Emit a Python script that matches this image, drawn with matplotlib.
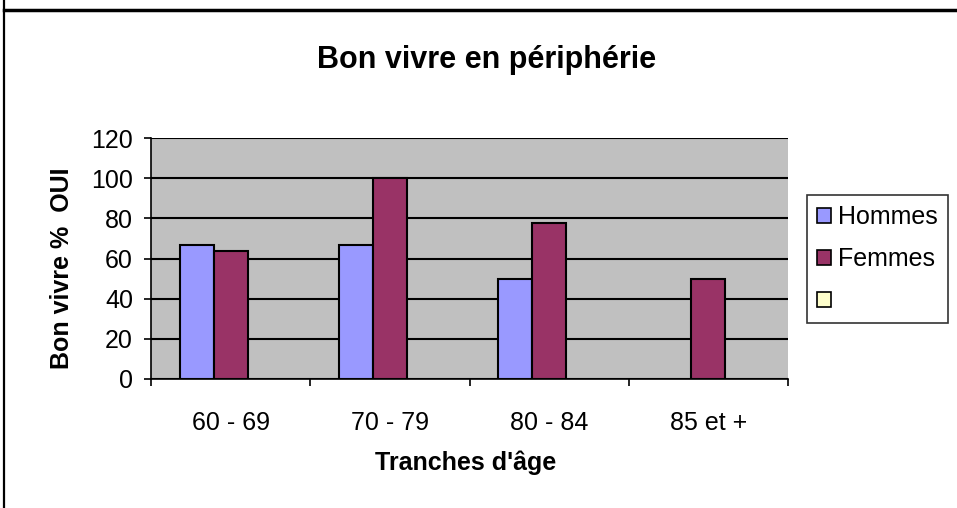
import numpy as np
import matplotlib
matplotlib.use("Agg")
import matplotlib.pyplot as plt
from matplotlib.patches import Patch
from matplotlib.lines import Line2D

plt.rcParams['font.family'] = ['Liberation Sans', 'DejaVu Sans']

categories = ['60 - 69', '70 - 79', '80 - 84', '85 et +']
hommes = [66.7, 66.7, 50.0, np.nan]
femmes = [63.6, 100.0, 77.8, 50.0]
autre = [np.nan, np.nan, np.nan, np.nan]
series_names = ['Hommes', 'Femmes', '']
colors = ['#9999FF', '#993366', '#FFFFCC']

W, H = 957, 508
fig = plt.figure(figsize=(W / 100, H / 100), dpi=100)
ax = fig.add_axes([151 / W, 1 - 379 / H, (788 - 151) / W, (379 - 138) / H])
ax.set_facecolor('#C0C0C0')

x = np.arange(len(categories))
w = 0.214
for i, (vals, c) in enumerate(zip([hommes, femmes, autre], colors)):
    ax.bar(x + (i - 1) * w, vals, width=w, color=c, edgecolor='black',
           linewidth=1.5, zorder=3)

ax.set_xlim(-0.5, len(categories) - 0.5)
ax.set_ylim(0, 120)
ax.set_yticks(range(0, 121, 20))
ax.yaxis.grid(True, color='black', linewidth=1.5, zorder=1)
ax.tick_params(axis='y', direction='out', length=5, width=1.2, pad=8, labelsize=18)

ax.set_xticks(x)
ax.set_xticklabels(categories, fontsize=18)
ax.set_xticks(np.arange(len(categories) + 1) - 0.5, minor=True)
ax.tick_params(axis='x', which='major', length=0, pad=23)
ax.tick_params(axis='x', which='minor', direction='out', length=5, width=1.2)

for s in ['top', 'right']:
    ax.spines[s].set_visible(False)
for s in ['left', 'bottom']:
    ax.spines[s].set_linewidth(1.2)
    ax.spines[s].set_zorder(4)

fig.text(487 / W, 1 - 60 / H, 'Bon vivre en périphérie', ha='center', va='center',
         fontsize=22, fontweight='bold')
fig.text(466 / W, 1 - 463 / H, "Tranches d'âge", ha='center', va='center',
         fontsize=18, fontweight='bold')
fig.text(62 / W, 1 - 268 / H, 'Bon vivre %  OUI', ha='center', va='center',
         rotation=90, fontsize=18, fontweight='bold')

handles = [Patch(facecolor=c, edgecolor='black', linewidth=1.2) for c in colors]
leg = fig.legend(handles, series_names, loc='upper left',
                 bbox_to_anchor=(807 / W, 1 - 195 / H), fontsize=18,
                 frameon=True, fancybox=False, handlelength=0.55, handleheight=0.55,
                 handletextpad=0.3, labelspacing=0.72, borderpad=0.4, borderaxespad=0)
leg.get_frame().set_edgecolor('black')
leg.get_frame().set_linewidth(1.2)

# chart frame lines (top and left)
fig.add_artist(Line2D([4 / W, 1], [1 - 9.5 / H, 1 - 9.5 / H], color='black', linewidth=2.5))
fig.add_artist(Line2D([4 / W, 4 / W], [0, 1], color='black', linewidth=1.6))

fig.savefig('out.png', dpi=100)
